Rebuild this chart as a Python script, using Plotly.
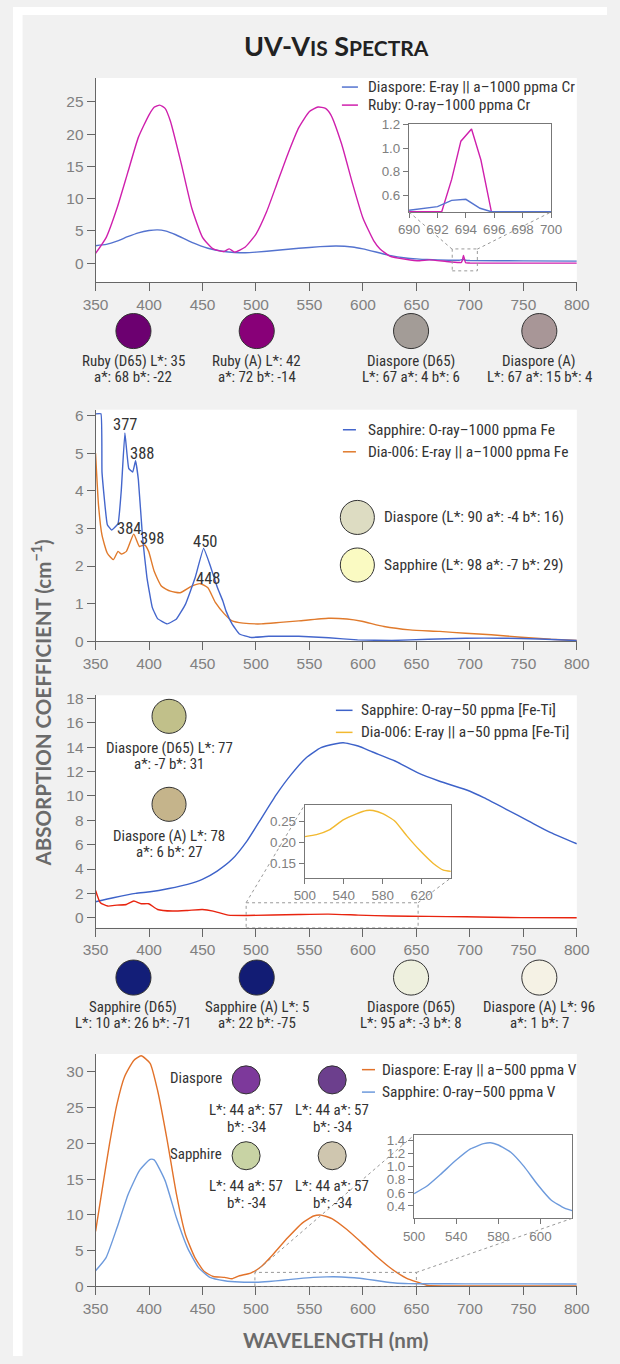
import plotly.graph_objects as go

# ---------------- DATA ----------------
wl_ticks = [350, 400, 450, 500, 550, 600, 650, 700, 750, 800]

p1_ruby_x = [350, 360, 370, 380, 390, 400, 405, 410, 415, 420, 430, 440, 450, 460, 470, 475, 480, 490, 500, 510,
             520, 530, 540, 550, 558, 565, 570, 580, 590, 600, 610, 616, 625, 640, 653, 662, 678, 690, 692, 693,
             694, 695, 696, 700, 750, 800]
p1_ruby_y = [1.5, 4.0, 8.5, 14.0, 19.5, 23.0, 24.2, 24.5, 24.0, 22.0, 15.5, 8.5, 4.0, 2.2, 1.8, 2.2, 1.7, 2.5, 4.5, 8.0,
             12.5, 17.0, 21.0, 23.5, 24.2, 24.0, 23.0, 18.5, 12.5, 7.0, 3.5, 2.2, 1.1, 0.6, 0.36, 0.5, 0.26, 0.1, 0.1, 0.45,
             1.2, 0.6, 0.05, 0.02, 0.0, 0.0]
p1_dia_x = [350, 360, 370, 380, 390, 400, 408, 415, 425, 440, 455, 470, 480, 490, 500, 520, 540, 560, 575, 590,
            600, 615, 625, 640, 650, 660, 680, 690, 692, 694, 696, 700, 750, 800]
p1_dia_y = [2.7, 2.9, 3.4, 4.1, 4.7, 5.05, 5.15, 5.0, 4.4, 3.2, 2.3, 1.8, 1.65, 1.6, 1.7, 2.0, 2.3, 2.55, 2.65, 2.5,
            2.2, 1.6, 1.2, 0.8, 0.65, 0.55, 0.45, 0.45, 0.5, 0.56, 0.45, 0.4, 0.35, 0.3]
in1_ruby_x = [690, 692.3, 693.0, 693.65, 694.4, 695.06, 695.8, 700]
in1_ruby_y = [0.46, 0.46, 0.735, 1.06, 1.163, 0.9, 0.46, 0.46]
in1_dia_x = [690, 692.0, 693.0, 694.0, 695.0, 695.8, 700]
in1_dia_y = [0.473, 0.504, 0.557, 0.566, 0.49, 0.46, 0.46]

p2_sap_x = [350, 355, 356, 361, 365, 371, 374, 377.4, 381, 384.7, 387.4, 390, 394, 398, 403, 408, 417, 425.6, 434, 443,
            451, 457, 464, 469, 472, 477.6, 484.5, 495, 512, 540, 568, 595, 627, 661, 696, 731, 765, 800]
p2_sap_y = [6.05, 6.05, 4.5, 3.1, 2.96, 3.13, 4.0, 5.54, 4.6, 4.5, 4.8, 4.3, 2.74, 1.7, 0.9, 0.6, 0.46, 0.59, 0.98, 1.68,
            2.47, 2.03, 1.42, 1.07, 0.8, 0.46, 0.19, 0.1, 0.13, 0.13, 0.09, 0.035, 0.02, 0.05, 0.08, 0.08, 0.06, 0.02]
p2_dia_x = [350, 352.8, 356, 361, 366.6, 371, 374, 378.8, 385.7, 391, 396, 399.6, 404.8, 411.7, 420, 429, 439.5, 448,
            455, 462, 470.6, 477.6, 488, 505, 522.6, 540, 567.7, 585, 599, 619.7, 644, 671.7, 696, 720, 748, 775.7, 800]
p2_dia_y = [5.0, 3.6, 2.82, 2.34, 2.17, 2.39, 2.32, 2.39, 2.85, 2.52, 2.56, 2.39, 1.86, 1.46, 1.33, 1.29, 1.46, 1.53,
            1.42, 1.03, 0.72, 0.54, 0.48, 0.46, 0.5, 0.54, 0.61, 0.59, 0.53, 0.39, 0.3, 0.26, 0.21, 0.17, 0.105, 0.05, 0.02]
p2_peak_labels = ["377", "388", "384", "398", "450", "448"]
p2_peak_x = [377.7, 393.7, 381.5, 403, 452, 455.4]
p2_peak_y = [5.76, 5.0, 3.0, 2.74, 2.65, 1.68]

p3_sap_x = [350, 366.6, 387.4, 401, 418.6, 436, 449.8, 463.7, 477.6, 491.5, 505.3, 519, 533, 547, 560.8, 574.7, 581.6,
            595.5, 609, 630, 651, 671.7, 699.5, 713, 734, 755, 775.7, 800]
p3_sap_y = [1.31, 1.64, 2.0, 2.13, 2.4, 2.74, 3.15, 3.83, 4.79, 6.29, 8.2, 10.1, 11.76, 13.13, 13.95, 14.28, 14.36,
            14.09, 13.6, 12.86, 11.9, 11.2, 10.4, 9.85, 8.9, 7.93, 6.98, 6.07]
p3_dia_x = [350, 354.5, 361.4, 370, 378.8, 385.7, 392.6, 399.6, 408, 422, 436, 449.8, 460, 474, 491.5, 540, 567.7,
            595.5, 626.7, 661, 696, 748, 800]
p3_dia_y = [2.24, 1.23, 0.96, 1.04, 1.09, 1.37, 1.15, 1.15, 0.68, 0.55, 0.6, 0.68, 0.55, 0.22, 0.19, 0.27, 0.3,
            0.22, 0.14, 0.11, 0.08, 0.01, 0.0]
in3_x = [500, 512, 525.7, 539.4, 553, 563.4, 570, 580.6, 592.6, 604.6, 618.3, 632, 642.3, 650]
in3_y = [0.2137, 0.2186, 0.2306, 0.254, 0.2685, 0.2766, 0.2766, 0.2685, 0.2508, 0.216, 0.18, 0.149, 0.133, 0.13]

p4_dia_x = [350, 356, 363, 370, 377, 385.7, 392.6, 401, 408, 417, 425.6, 434, 443, 451.6, 460, 470.6, 477.6, 484.5,
            495, 505, 515.7, 529.6, 543.5, 553.9, 560.8, 571, 585, 599, 612.8, 626.7, 640.5, 651, 661, 678.7, 800]
p4_dia_y = [7.7, 13.4, 19.9, 25.5, 29.3, 31.6, 32.25, 31.2, 27.4, 20.4, 12.9, 7.27, 4.0, 2.1, 1.4, 1.27, 1.08, 1.5,
            1.88, 2.8, 4.45, 6.8, 8.9, 9.85, 9.98, 9.5, 7.97, 6.1, 4.2, 2.48, 1.17, 0.6, 0.14, 0.09, 0.09]
p4_sap_x = [350, 359.7, 370, 380.5, 391, 401, 404.8, 415, 425.6, 436, 446.5, 457, 470.6, 484.5, 500, 512, 525, 540,
            553.5, 566, 572.7, 580, 591.8, 604.5, 617, 630, 642.8, 661, 696, 748, 800]
p4_sap_y = [2.2, 4.0, 8.2, 12.9, 16.2, 17.77, 17.7, 14.8, 9.6, 5.4, 2.6, 1.27, 0.8, 0.62, 0.6, 0.7, 0.88, 1.1,
            1.27, 1.35, 1.365, 1.33, 1.22, 1.0, 0.73, 0.49, 0.4, 0.38, 0.37, 0.36, 0.35]
in4_x = [500, 512, 525, 540, 553.5, 566, 572.7, 580, 591.8, 604.5, 617, 630, 642.8, 650.7]
in4_y = [0.587, 0.70, 0.88, 1.10, 1.27, 1.35, 1.365, 1.33, 1.22, 1.0, 0.73, 0.49, 0.365, 0.325]
in4_tickvals = [500, 540, 580, 620]
in4_ticktext = ["500", "540", "580", "600"]

leg1 = ["Diaspore: E-ray || a\u20131000 ppma Cr", "Ruby: O-ray\u20131000 ppma Cr"]
leg2 = ["Sapphire: O-ray\u20131000 ppma Fe", "Dia-006: E-ray || a\u20131000 ppma Fe"]
leg3 = ["Sapphire: O-ray\u201350 ppma [Fe-Ti]", "Dia-006: E-ray || a\u201350 ppma [Fe-Ti]"]
leg4 = ["Diaspore: E-ray || a\u2013500 ppma V", "Sapphire: O-ray\u2013500 ppma V"]

row1_colors = ["#6c0070", "#880078", "#a39c97", "#a89697"]
row1_text = [("Ruby (D65) L*: 35", "a*: 68 b*: -22"), ("Ruby (A) L*: 42", "a*: 72 b*: -14"),
             ("Diaspore (D65)", "L*: 67 a*: 4 b*: 6"), ("Diaspore (A)", "L*: 67 a*: 15 b*: 4")]
p2_sw_colors = ["#dddcc2", "#fafac2"]
p2_sw_text = ["Diaspore (L*: 90 a*: -4 b*: 16)", "Sapphire (L*: 98 a*: -7 b*: 29)"]
p3_sw_colors = ["#c1c08a", "#c5b48b"]
p3_sw_text = [("Diaspore (D65) L*: 77", "a*: -7 b*: 31"), ("Diaspore (A) L*: 78", "a*: 6 b*: 27")]
row3_colors = ["#131e78", "#121c74", "#eef0de", "#f5f2e5"]
row3_text = [("Sapphire (D65)", "L*: 10 a*: 26 b*: -71"), ("Sapphire (A) L*: 5", "a*: 22 b*: -75"),
             ("Diaspore (D65)", "L*: 95 a*: -3 b*: 8"), ("Diaspore (A) L*: 96", "a*: 1 b*: 7")]
p4_sw_colors = [["#7d399b", "#6c3f8d"], ["#c8d3a4", "#cfc6af"]]
p4_sw_names = ["Diaspore", "Sapphire"]
p4_sw_text = ("L*: 44 a*: 57", "b*: -34")

# ---------------- LAYOUT ----------------
W, H = 620, 1364
AX, SX = 13.8, 0.956
AY, SY = 8.1, 0.987
FS = 1.03
def fx(x): return ((x - AX) / SX) / W
def fy(y): return 1 - ((y - AY) / SY) / H

NARROW = "Roboto Condensed, Roboto, sans-serif"
TICKF = "Liberation Sans, Arial, sans-serif"
TITLEF = "Lato, Open Sans, sans-serif"

C_BLUE1, C_MAG = "#5473cf", "#cf20ad"
C_BLUE2, C_ORG2 = "#4466cc", "#e07a2c"
C_BLUE3, C_RED3, C_YEL3 = "#3d62c9", "#e8240f", "#f2b930"
C_ORG4, C_BLUE4 = "#e2722a", "#6d9adc"

fig = go.Figure()

def line(x, y, ax, color, shape="spline", width=1.4, smoothing=0.5):
    fig.add_trace(go.Scatter(x=x, y=y, xaxis="x" + ax, yaxis="y" + ax, mode="lines",
                             line=dict(color=color, width=width, shape=shape, smoothing=smoothing),
                             showlegend=False, hoverinfo="skip"))

line(p1_dia_x, p1_dia_y, "", C_BLUE1)
line(p1_ruby_x, p1_ruby_y, "", C_MAG)
line(in1_ruby_x, in1_ruby_y, "2", C_MAG, shape="linear")
line(in1_dia_x, in1_dia_y, "2", C_BLUE1, shape="linear")
line(p2_dia_x, p2_dia_y, "3", C_ORG2)
line(p2_sap_x, p2_sap_y, "3", C_BLUE2, smoothing=0.3)
line(p3_sap_x, p3_sap_y, "4", C_BLUE3)
line(p3_dia_x, p3_dia_y, "4", C_RED3)
line(in3_x, in3_y, "5", C_YEL3)
line(p4_dia_x, p4_dia_y, "6", C_ORG4)
line(p4_sap_x, p4_sap_y, "6", C_BLUE4)
line(in4_x, in4_y, "7", C_BLUE4)

main_style = dict(showline=True, linecolor="#666", linewidth=1, ticks="outside", ticklen=8, tickwidth=1,
                  tickcolor="#666", showgrid=False, zeroline=False,
                  tickfont=dict(family=TICKF, size=15 * FS, color="#808080"), fixedrange=True)
inset_style = dict(showline=True, mirror=True, linecolor="#777", linewidth=1.2, ticks="outside", ticklen=5,
                   tickwidth=1, tickcolor="#777", showgrid=False, zeroline=False,
                   tickfont=dict(family=TICKF, size=13 * FS, color="#808080"), fixedrange=True)

XD = [fx(96.2), fx(576.4)]
layout = dict(width=W, height=H, margin=dict(l=0, r=0, t=0, b=0), autosize=False,
              paper_bgcolor="#f1f1f1", plot_bgcolor="white", showlegend=False)

def main_axes(xn, yn, ytop, ybot, yrange, yticks):
    layout["xaxis" + xn] = dict(domain=XD, range=[350, 800], anchor="y" + yn, tickvals=wl_ticks, **main_style)
    layout["yaxis" + yn] = dict(domain=[fy(ybot), fy(ytop)], range=yrange, anchor="x" + xn, tickvals=yticks,
                                **main_style)

def inset_axes(n, x0, x1, ytop, ybot, xr, yr, xticks, yticks, yfmt, xtext=None):
    xa = dict(domain=[fx(x0), fx(x1)], range=xr, anchor="y" + n, tickvals=xticks, **inset_style)
    if xtext:
        xa["ticktext"] = xtext
    layout["xaxis" + n] = xa
    layout["yaxis" + n] = dict(domain=[fy(ybot), fy(ytop)], range=yr, anchor="x" + n, tickvals=yticks,
                               tickformat=yfmt, **inset_style)

main_axes("", "", 79, 283, [-3, 28.7], [0, 5, 10, 15, 20, 25])
inset_axes("2", 409, 550.7, 125, 212.7, [690, 700], [0.458, 1.205], [690, 692, 694, 696, 698, 700],
           [0.6, 0.8, 1.0, 1.2], ".1f")
main_axes("3", "3", 410, 641, [0, 6.16], [0, 1, 2, 3, 4, 5, 6])
main_axes("4", "4", 695, 927, [-0.82, 18.25], list(range(0, 19, 2)))
inset_axes("5", 305, 450.7, 804, 877.3, [500, 650], [0.114, 0.291], [500, 540, 580, 620],
           [0.15, 0.20, 0.25], ".2f")
main_axes("6", "6", 1053, 1285, [0, 32.5], [0, 5, 10, 15, 20, 25, 30])
inset_axes("7", 414, 571.7, 1134, 1217, [500, 650], [0.21, 1.48], in4_tickvals,
           [0.4, 0.6, 0.8, 1.0, 1.2, 1.4], ".1f", xtext=in4_ticktext)

shapes = []
ann = []

# thin white page border on the top and left of the grey card
shapes.append(dict(type="rect", xref="paper", yref="paper", x0=0, x1=1, y0=1 - 8 / H, y1=1,
                   fillcolor="white", line=dict(width=0), layer="below"))
shapes.append(dict(type="rect", xref="paper", yref="paper", x0=0, x1=10 / W, y0=0, y1=1,
                   fillcolor="white", line=dict(width=0), layer="below"))

def text(x, y, s, size=14.5, color="#333", anchor="center", font=NARROW):
    ann.append(dict(xref="paper", yref="paper", x=fx(x), y=fy(y), text=s, showarrow=False,
                    xanchor=anchor, yanchor="middle", font=dict(family=font, size=size * FS, color=color)))

def circle(cx, cy, r, color):
    shapes.append(dict(type="circle", xref="paper", yref="paper", x0=fx(cx - r), x1=fx(cx + r),
                       y0=fy(cy + r), y1=fy(cy - r), fillcolor=color, line=dict(color="#333", width=1)))

def legend(x0, x1, xt, ys, labels, colors):
    for y, lab, c in zip(ys, labels, colors):
        shapes.append(dict(type="line", xref="paper", yref="paper", x0=fx(x0), x1=fx(x1), y0=fy(y), y1=fy(y),
                           line=dict(color=c, width=1.5)))
        text(xt, y, lab, size=15, anchor="left")

def dotted(xa, ya, xb, yb):
    shapes.append(dict(type="line", xref="paper", yref="paper", x0=fx(xa), y0=fy(ya), x1=fx(xb), y1=fy(yb),
                       line=dict(color="#999", width=1, dash="dot")))

def zoombox(xr, yr, x0, x1, y0, y1):
    shapes.append(dict(type="rect", xref=xr, yref=yr, x0=x0, x1=x1, y0=y0, y1=y1,
                       line=dict(color="#999", width=1, dash="dot")))

ann.append(dict(xref="paper", yref="paper", x=fx(337), y=fy(47), showarrow=False, xanchor="center",
                yanchor="middle",
                text="<b>UV-V<span style='font-size:21px'>IS</span> S<span style='font-size:21px'>PECTRA</span></b>",
                font=dict(family=TITLEF, size=27, color="#222")))
ann.append(dict(xref="paper", yref="paper", x=fx(42), y=fy(703), showarrow=False, textangle=-90,
                xanchor="center", yanchor="middle",
                text="<b>ABSORPTION COEFFICIENT (cm<sup>\u22121</sup>)</b>",
                font=dict(family=TITLEF, size=20.5, color="#6a6a6a")))
ann.append(dict(xref="paper", yref="paper", x=fx(336), y=fy(1338), showarrow=False, xanchor="center",
                yanchor="middle", text="<b>WAVELENGTH (nm)</b>",
                font=dict(family=TITLEF, size=20.5, color="#6a6a6a")))

legend(342, 358, 366, [88, 106], leg1, [C_BLUE1, C_MAG])
zoombox("x", "y", 683.5, 707, -1.2, 2.2)
dotted(452, 249.8, 409, 212.7)
dotted(477, 249.8, 550.7, 212.7)
row_x = [134, 257, 411, 539]
for cx, col, (t1, t2) in zip(row_x, row1_colors, row1_text):
    circle(cx, 331.5, 17.5, col)
    text(cx, 361, t1)
    text(cx, 377, t2)

legend(343, 356, 366.5, [430, 452], leg2, [C_BLUE2, C_ORG2])
for s, xv, yv in zip(p2_peak_labels, p2_peak_x, p2_peak_y):
    ann.append(dict(xref="x3", yref="y3", x=xv, y=yv, text=s, showarrow=False, xanchor="center",
                    yanchor="middle", font=dict(family=NARROW, size=16 * FS, color="#333")))
for cy, col, s in zip([517.5, 565], p2_sw_colors, p2_sw_text):
    circle(357.4, cy, 17, col)
    text(382, cy, s, size=15, anchor="left")

legend(336, 352.6, 359, [710, 732], leg3, [C_BLUE3, C_YEL3])
for cy, col, (t1, t2) in zip([716, 803.8], p3_sw_colors, p3_sw_text):
    circle(169.5, cy, 17, col)
    text(169.5, cy + 32, t1)
    text(169.5, cy + 48, t2)
zoombox("x4", "y4", 490.8, 651.6, -0.82, 1.23)
dotted(246.4, 902, 305, 804)
dotted(418, 902, 450.7, 877.3)
for cx, col, (t1, t2) in zip(row_x, row3_colors, row3_text):
    circle(cx, 976.7, 17.5, col)
    text(cx, 1005.7, t1)
    text(cx, 1021.7, t2)

legend(362, 375, 380, [1068.6, 1091], leg4, [C_ORG4, C_BLUE4])
for cy, cols, name in zip([1078.8, 1154.5], p4_sw_colors, p4_sw_names):
    text(224, cy - 1.5, name, anchor="right")
    for cx, col in zip([246.4, 332.3], cols):
        circle(cx, cy, 14, col)
        text(cx, cy + 30, p4_sw_text[0])
        text(cx, cy + 47, p4_sw_text[1])
zoombox("x6", "y6", 499, 650, 0, 1.97)
dotted(255, 1271, 414, 1134)
dotted(416.2, 1271, 571.7, 1217)

layout["shapes"] = shapes
layout["annotations"] = ann
fig.update_layout(**layout)
fig.write_html("out.html", config={"responsive": False, "displayModeBar": False},
               post_script="document.body.style.margin='0';document.body.style.overflow='hidden';")
